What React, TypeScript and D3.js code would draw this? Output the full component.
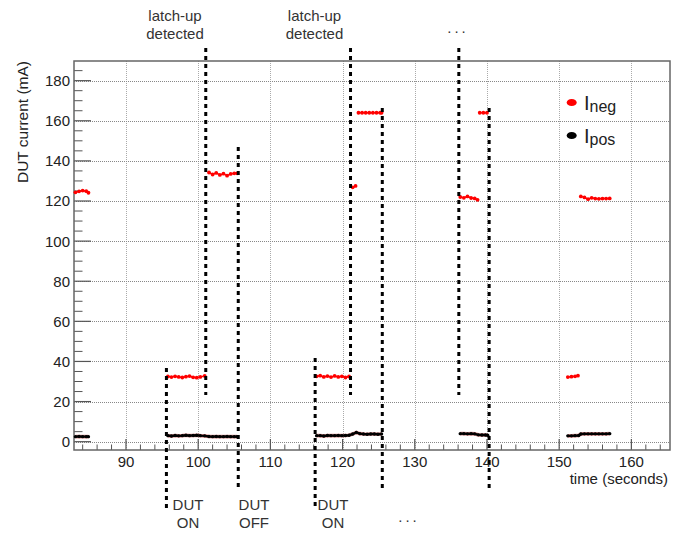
import React from 'react';
import * as d3 from 'd3';

type Pt = [number, number];

// readings: [time (s), current (mA)], one run per contiguous stretch
const inegRuns: Pt[][] = [
  [[83.0, 124.3], [83.5, 124.8], [84.0, 125.2], [84.5, 124.9], [84.8, 124.1]],
  [[95.8, 32.5], [96.3, 32.2], [96.8, 32.6], [97.3, 32.3], [97.8, 32.0], [98.3, 32.4],
   [98.8, 32.7], [99.3, 32.1], [99.8, 31.9], [100.3, 32.3], [100.9, 32.8]],
  [[101.5, 134.2], [102.0, 133.2], [102.5, 134.0], [103.0, 133.0], [103.5, 133.6],
   [104.0, 132.6], [104.5, 133.5], [105.0, 133.8], [105.4, 133.8]],
  [[116.4, 32.6], [116.9, 32.9], [117.4, 32.3], [117.9, 32.7], [118.4, 32.2],
   [118.9, 32.8], [119.4, 32.3], [119.9, 32.6], [120.4, 32.0], [120.9, 32.5]],
  [[121.4, 126.8], [121.8, 127.5]],
  [[122.2, 164.0], [122.7, 164.0], [123.2, 164.0], [123.7, 164.0], [124.2, 164.0],
   [124.7, 164.0], [125.2, 164.0], [125.4, 164.0]],
  [[136.3, 122.0], [136.8, 121.6], [137.3, 122.3], [137.8, 121.5], [138.3, 121.3], [138.7, 120.6]],
  [[139.0, 164.0], [139.5, 164.0], [140.0, 164.0]],
  [[151.2, 32.2], [151.7, 32.4], [152.2, 32.6], [152.6, 32.9]],
  [[153.0, 122.3], [153.5, 121.8], [154.0, 120.9], [154.5, 121.6], [155.0, 121.2],
   [155.5, 121.1], [156.0, 121.2], [156.5, 121.2], [157.0, 121.3]],
];

const iposRuns: Pt[][] = [
  [[83.0, 2.5], [83.5, 2.6], [84.0, 2.5], [84.5, 2.5], [84.8, 2.5]],
  [[95.8, 3.0], [96.3, 2.8], [96.8, 3.1], [97.3, 2.9], [97.8, 3.0], [98.3, 3.2],
   [98.8, 3.0], [99.3, 3.1], [99.8, 3.2], [100.3, 3.0], [100.9, 2.9],
   [101.5, 2.6], [102.0, 2.5], [102.5, 2.6], [103.0, 2.5], [103.5, 2.5],
   [104.0, 2.6], [104.5, 2.5], [105.0, 2.5], [105.4, 2.5]],
  [[116.4, 3.0], [116.9, 3.0], [117.4, 2.8], [117.9, 3.1], [118.4, 3.0],
   [118.9, 3.0], [119.4, 3.1], [119.9, 3.0], [120.4, 3.1], [120.9, 3.2],
   [121.4, 3.8], [121.9, 4.6], [122.4, 4.0], [122.9, 3.8], [123.4, 3.7],
   [123.9, 3.8], [124.4, 3.8], [124.9, 3.7], [125.4, 3.8]],
  [[136.3, 4.0], [136.8, 4.0], [137.3, 3.9], [137.8, 4.0], [138.3, 3.9],
   [138.8, 3.4], [139.3, 3.3], [139.8, 3.3], [140.1, 3.2]],
  [[151.2, 2.9], [151.7, 2.9], [152.2, 3.0], [152.7, 3.1],
   [153.0, 3.8], [153.5, 3.9], [154.0, 3.9], [154.5, 3.9], [155.0, 3.9],
   [155.5, 3.9], [156.0, 3.9], [156.5, 3.9], [157.0, 4.0]],
];

const xTicks = [90, 100, 110, 120, 130, 140, 150, 160];
const yTicks = [0, 20, 40, 60, 80, 100, 120, 140, 160, 180];

// dashed event markers, time in seconds
const eventTimes = [95.6, 101.05, 105.55, 116.2, 121.1, 125.5, 136.1, 140.3];

// vertical pixel span of each marker line
const eventSpan = [
  [368, 508], [48, 395], [147, 490], [358, 508],
  [48, 395], [108, 489], [48, 395], [108, 492],
];

const W = 683;
const H = 533;
const frame = { left: 74, right: 670, top: 61, bottom: 450 };
const font = '"Liberation Sans", Arial, Helvetica, sans-serif';

const App = () => {
  const x = d3.scaleLinear().domain([82.8, 165.35]).range([frame.left, frame.right]);
  const y = d3.scaleLinear().domain([-4.15, 189.8]).range([frame.bottom, frame.top]);

  const xMinor = d3.range(84, 166, 2).filter((t) => t % 10 !== 0);
  const yMinor = d3.range(0, 190, 5).filter((v) => v % 20 !== 0);

  const line = d3.line<Pt>().x((d) => x(d[0])).y((d) => y(d[1]));

  return (
    <svg width={W} height={H} style={{ position: 'absolute', left: 0, top: 0, background: '#fff' }}
      fontFamily={font}>
      <rect width={W} height={H} fill="#fff" />

      {/* grid */}
      {xTicks.map((t) => (
        <line key={'gx' + t} x1={Math.round(x(t)) + 0.5} x2={Math.round(x(t)) + 0.5}
          y1={frame.top} y2={frame.bottom} stroke="#aaa" strokeDasharray="1 1" />
      ))}
      {yTicks.map((v) => (
        <line key={'gy' + v} x1={frame.left} x2={frame.right}
          y1={Math.round(y(v)) + 0.5} y2={Math.round(y(v)) + 0.5} stroke="#888" strokeDasharray="1 1" />
      ))}

      {/* ticks */}
      {xTicks.map((t) => (
        <line key={'tx' + t} x1={x(t)} x2={x(t)} y1={frame.bottom} y2={frame.bottom - 11}
          stroke="#555" strokeWidth={1.2} />
      ))}
      {xMinor.map((t) => (
        <line key={'mx' + t} x1={x(t)} x2={x(t)} y1={frame.bottom} y2={frame.bottom - 5.5}
          stroke="#555" strokeWidth={1} />
      ))}
      {yTicks.map((v) => (
        <line key={'ty' + v} x1={frame.left} x2={frame.left + 17} y1={y(v)} y2={y(v)}
          stroke="#555" strokeWidth={1.2} />
      ))}
      {yMinor.map((v) => (
        <line key={'my' + v} x1={frame.left} x2={frame.left + 8.5} y1={y(v)} y2={y(v)}
          stroke="#555" strokeWidth={1} />
      ))}

      {/* frame */}
      <rect x={frame.left} y={frame.top} width={frame.right - frame.left}
        height={frame.bottom - frame.top} fill="none" stroke="#666" strokeWidth={1.5} />

      {/* tick labels */}
      {xTicks.map((t) => (
        <text key={'lx' + t} x={x(t)} y={467} textAnchor="middle" fontSize={15} fill="#222">{t}</text>
      ))}
      {yTicks.map((v) => (
        <text key={'ly' + v} x={70} y={y(v)} dy="0.36em" textAnchor="end" fontSize={15} fill="#222">{v}</text>
      ))}

      {/* axis titles */}
      <text x={668} y={484} textAnchor="end" fontSize={15} fill="#222">time (seconds)</text>
      <text transform="translate(28,61) rotate(-90)" textAnchor="end" fontSize={15.5} fill="#222">
        DUT current (mA)
      </text>

      {/* Ineg */}
      {inegRuns.map((run, i) => (
        <g key={'n' + i}>
          <path d={line(run) ?? ''} fill="none" stroke="#f00" strokeWidth={1.5} />
          {run.map((d, j) => (
            <circle key={j} cx={x(d[0])} cy={y(d[1])} r={1.9} fill="#f00" />
          ))}
        </g>
      ))}

      {/* Ipos */}
      {iposRuns.map((run, i) => (
        <g key={'p' + i}>
          <path d={line(run) ?? ''} fill="none" stroke="#b22" strokeWidth={3.6} strokeOpacity={0.5} />
          <path d={line(run) ?? ''} fill="none" stroke="#000" strokeWidth={2.4} />
          {run.map((d, j) => (
            <circle key={j} cx={x(d[0])} cy={y(d[1])} r={1.7} fill="#000" />
          ))}
        </g>
      ))}

      {/* event markers */}
      {eventTimes.map((t, i) => (
        <line key={'ev' + i} x1={x(t)} x2={x(t)} y1={eventSpan[i][0]} y2={eventSpan[i][1]}
          stroke="#000" strokeWidth={3} strokeDasharray="4 4" />
      ))}

      {/* annotations */}
      <g fontSize={15} fill="#333" textAnchor="middle">
        <text x={175} y={21}>latch-up</text>
        <text x={175} y={39}>detected</text>
        <text x={314.5} y={21}>latch-up</text>
        <text x={314.5} y={39}>detected</text>
        <text x={458} y={33} letterSpacing={3}>...</text>
        <text x={188} y={510}>DUT</text>
        <text x={188} y={528}>ON</text>
        <text x={254} y={510}>DUT</text>
        <text x={254} y={528}>OFF</text>
        <text x={333} y={510}>DUT</text>
        <text x={333} y={528}>ON</text>
        <text x={409} y={522} letterSpacing={3}>...</text>
      </g>

      {/* legend */}
      <ellipse cx={571.7} cy={102.5} rx={5} ry={3.6} fill="#f00" />
      <text x={584} y={110} fontSize={20} fill="#222">
        I<tspan fontSize={16} dy={2}>neg</tspan>
      </text>
      <ellipse cx={571.7} cy={135.5} rx={5} ry={3.6} fill="#000" />
      <text x={584} y={143} fontSize={20} fill="#222">
        I<tspan fontSize={16} dy={2}>pos</tspan>
      </text>
    </svg>
  );
};

export default App;
